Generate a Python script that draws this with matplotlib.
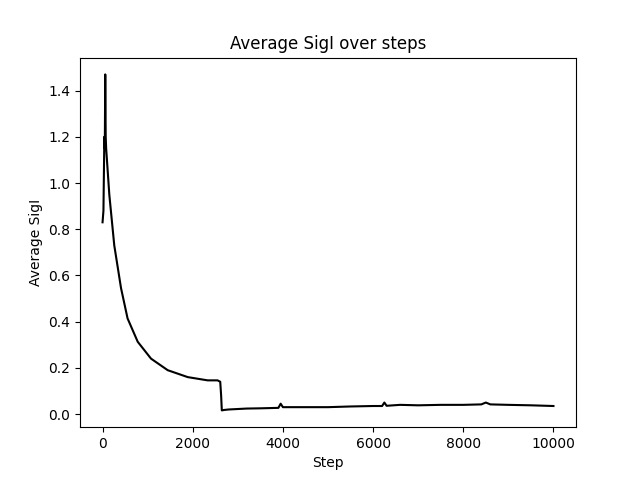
import matplotlib
matplotlib.use("Agg")
import matplotlib.pyplot as plt

steps = [0, 20, 40, 50, 60, 70, 80, 150, 260, 410, 555, 780, 1075, 1445, 1890, 2330,
         2550, 2610, 2630, 2645, 2700, 2800, 3000, 3200, 3500, 3900, 3950, 4000, 4500,
         5000, 5500, 6000, 6200, 6250, 6300, 6600, 7000, 7500, 8000, 8400, 8500, 8600,
         9000, 9500, 10000]
sigi = [0.83, 0.88, 1.20, 1.15, 1.47, 1.20, 1.15, 0.95, 0.73, 0.545, 0.414, 0.313,
        0.24, 0.19, 0.16, 0.146, 0.146, 0.14, 0.08, 0.016, 0.018, 0.02, 0.022, 0.024,
        0.025, 0.027, 0.045, 0.03, 0.03, 0.03, 0.033, 0.035, 0.035, 0.05, 0.036, 0.04,
        0.038, 0.04, 0.04, 0.042, 0.05, 0.042, 0.04, 0.038, 0.035]

fig, ax = plt.subplots(figsize=(6.4, 4.8), dpi=100)
ax.plot(steps, sigi, color="black")
ax.set_title("Average SigI over steps")
ax.set_xlabel("Step")
ax.set_ylabel("Average SigI")
fig.savefig("out.png")
